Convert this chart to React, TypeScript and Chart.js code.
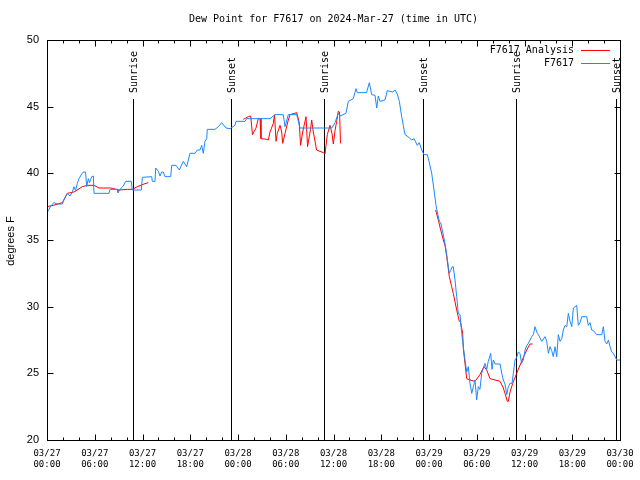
import React, { useEffect, useRef } from "react";
import { Chart, registerables } from "chart.js";

Chart.register(...registerables);

const titleText = "Dew Point for F7617 on 2024-Mar-27 (time in UTC)";
const yAxisTitle = "degrees F";
const analysisLabel = "F7617 Analysis";
const stationLabel = "F7617";
const analysisColor = "#ff0000";
const stationColor = "#1a88ff";

const xTickHours = [0, 6, 12, 18, 24, 30, 36, 42, 48, 54, 60, 66, 72];
const xTickDates = ["03/27", "03/27", "03/27", "03/27", "03/28", "03/28", "03/28", "03/28", "03/29", "03/29", "03/29", "03/29", "03/30"];
const xTickTimes = ["00:00", "06:00", "12:00", "18:00", "00:00", "06:00", "12:00", "18:00", "00:00", "06:00", "12:00", "18:00", "00:00"];

const eventHours = [10.84, 23.16, 34.85, 47.29, 58.97, 71.5];
const eventLabels = ["Sunrise", "Sunset", "Sunrise", "Sunset", "Sunrise", "Sunset"];
const eventLineTop = 45.6;

const stationHours = [
  0, 0.54, 0.88, 1.29, 1.92, 2.05, 2.55, 2.89, 3.18, 3.39, 3.58, 3.81, 4.02, 4.36, 4.56, 4.84, 4.99, 5.19, 5.34, 5.62, 5.82, 5.91,
  7.79, 7.92, 8.83, 8.92, 9.17, 9.59, 9.89, 10.59, 10.72, 11.85, 11.98, 13.16, 13.23, 13.57, 13.66, 13.99, 14.2, 14.41, 14.61, 14.83,
  15.54, 15.67, 16.21, 16.62, 17.13, 17.34, 17.55, 17.97, 18.6, 18.89, 19.23, 19.44, 19.64, 19.85, 20.07, 20.14, 21.11, 21.53, 21.95,
  22.49, 23.0, 23.62, 23.75, 24.88, 25.09, 28.02, 28.65, 29.69, 29.91, 30.32, 31.38, 31.79, 35.78, 36.19, 36.6, 36.82, 37.57, 37.86,
  38.49, 38.83, 38.99, 40.15, 40.5, 40.8, 41.22, 41.43, 41.63, 41.84, 42.47, 42.76, 43.44, 43.73, 44.02, 44.27, 44.57, 44.77, 44.99,
  45.36, 45.83, 46.12, 46.53, 46.78, 47.09, 47.37, 47.79, 48.0, 48.34, 48.63, 48.88, 49.04, 49.3, 49.47, 49.72, 50.01, 50.23, 50.43,
  50.55, 50.7, 50.93, 51.05, 51.27, 51.48, 51.68, 51.9, 52.11, 52.31, 52.52, 52.74, 52.94, 53.15, 53.37, 53.57, 53.78, 53.99, 54.19,
  54.4, 54.62, 55.04, 55.25, 55.45, 55.75, 55.92, 56.08, 56.3, 56.93, 57.14, 57.34, 57.55, 57.77, 57.97, 58.18, 58.43, 58.6, 58.81,
  59.02, 59.22, 59.43, 59.64, 59.85, 60.07, 60.28, 60.44, 60.69, 60.91, 61.11, 61.32, 61.54, 61.74, 62.17, 62.58, 62.79, 63.0, 63.21,
  63.42, 63.62, 63.84, 64.05, 64.25, 64.47, 64.68, 64.88, 65.1, 65.31, 65.51, 65.72, 65.94, 66.14, 66.56, 66.76, 66.98, 67.19, 67.82,
  68.02, 68.24, 68.44, 68.65, 69.08, 69.71, 69.91, 70.12, 70.33, 70.54, 70.75, 70.96, 71.16, 71.38, 71.59, 72.0,
];
const stationDewPoint = [
  37.05, 37.6, 37.8, 37.7, 37.7, 37.9, 38.5, 38.3, 38.6, 39.0, 38.7, 39.25, 39.6, 39.95, 40.1, 40.1, 39.0, 39.6, 39.3, 39.75, 39.8, 38.5,
  38.5, 38.8, 38.8, 38.55, 38.8, 39.05, 39.4, 39.4, 38.75, 38.75, 39.7, 39.75, 39.4, 39.4, 40.4, 40.15, 39.8, 40.1, 40.1, 39.75,
  39.75, 40.6, 40.6, 40.25, 40.9, 40.7, 40.5, 41.5, 41.5, 41.75, 41.75, 42.1, 41.5, 42.4, 42.6, 43.3, 43.3, 43.5, 43.8,
  43.4, 43.35, 43.6, 43.9, 43.9, 44.1, 44.1, 44.4, 44.4, 43.5, 44.4, 44.4, 43.4, 43.4, 43.8, 44.5, 44.3, 44.5, 45.4,
  45.6, 46.35, 46.05, 46.05, 46.8, 45.9, 45.85, 44.9, 45.8, 45.4, 45.5, 46.2, 46.1, 46.25, 45.95, 45.4, 44.25, 43.6, 42.9,
  42.75, 42.5, 42.6, 42.1, 42.3, 41.75, 41.4, 41.4, 40.9, 40.0, 38.75, 37.6, 37.1, 36.4, 36.3, 35.6, 34.75, 33.9, 33.0,
  32.5, 32.7, 33.0, 33.0, 32.0, 30.75, 29.5, 29.4, 28.0, 27.0, 26.0, 25.1, 25.5, 24.25, 23.5, 24.0, 24.5, 23.0, 24.0,
  23.8, 25.0, 25.75, 25.3, 25.9, 26.5, 25.3, 26.0, 25.7, 25.7, 25.0, 24.5, 24.2, 23.4, 24.0, 24.25, 24.25, 25.0, 26.0,
  26.2, 26.6, 26.5, 25.75, 26.0, 26.75, 27.1, 27.2, 27.5, 27.75, 27.9, 28.5, 28.1, 27.9, 27.4, 27.75, 27.4, 26.5, 27.0,
  26.7, 26.25, 27.0, 26.25, 27.9, 27.4, 27.6, 28.25, 28.6, 28.5, 29.5, 28.9, 28.5, 29.9, 30.1, 28.6, 28.8, 29.25, 29.25,
  28.6, 28.8, 28.25, 28.2, 27.9, 27.9, 28.5, 27.4, 27.2, 27.5, 27.0, 26.6, 26.5, 26.25, 26.0, 26.0,
];

const analysisHours = [
  0.04, 0.79, 1.92, 2.55, 3.39, 4.44, 5.06, 5.91, 6.53, 8.0, 9.05, 10.09, 10.72, 11.35, 12.19, 12.73,
  18.0,
  24.67, 25.3, 25.6, 25.82, 26.26, 26.55, 26.77, 26.89, 27.61, 27.81, 28.02, 28.44, 28.59, 28.78, 28.94, 29.28, 29.49, 29.62, 29.91,
  30.32, 30.54, 31.38, 31.7, 31.86, 32.13, 32.55, 32.74, 33.11, 33.26, 33.46, 33.68, 33.87, 34.72, 34.93, 35.22, 35.56, 35.81, 35.98,
  36.19, 36.4, 36.6, 36.76, 36.88,
  42.0,
  48.84, 49.17, 49.47, 49.8, 50.01, 50.23, 50.55, 50.85, 51.05, 51.48, 51.81, 51.98, 52.23, 52.31, 52.52, 52.74, 53.15, 53.78, 54.4,
  54.9, 55.25, 55.67, 56.3, 56.93, 57.34, 57.55, 57.84, 57.97, 58.18, 58.52, 59.02, 59.64, 60.28, 60.69, 61.01,
];
const analysisDewPoint = [
  37.5, 37.6, 37.8, 38.5, 38.6, 39.0, 39.1, 39.1, 38.9, 38.9, 38.75, 38.8, 38.8, 39.0, 39.2, 39.3,
  null,
  44.05, 44.25, 44.3, 42.9, 43.4, 44.1, 44.1, 42.6, 42.55, 42.5, 43.1, 43.75, 44.4, 42.4, 43.0, 43.6, 43.1, 42.25, 43.0,
  44.0, 44.4, 44.55, 43.8, 42.1, 43.1, 44.25, 42.0, 43.3, 44.0, 43.1, 42.4, 41.75, 41.55, 41.45, 42.9, 43.6, 43.0, 42.2,
  43.2, 43.9, 44.65, 44.6, 42.25,
  null,
  37.25, 36.5, 35.75, 35.0, 34.6, 33.75, 32.25, 31.5, 31.0, 29.75, 28.9, 28.8, 28.0, 26.9, 25.75, 24.6, 24.5, 24.4, 24.9,
  25.5, 25.25, 24.6, 24.5, 24.4, 23.9, 23.5, 22.9, 22.9, 23.6, 24.25, 25.0, 25.9, 26.75, 27.2, 27.2,
];

const MONO = "'DejaVu Sans Mono', monospace";
const SANS = "'Liberation Sans', Arial, sans-serif";

const decorPlugin = {
  id: "decor",
  beforeDatasetsDraw(chart: any) {
    const { ctx, chartArea: a, scales } = chart;
    const x = scales.x;
    const y = scales.y;
    ctx.save();
    ctx.strokeStyle = "#000";
    ctx.fillStyle = "#000";
    ctx.lineWidth = 1;
    eventHours.forEach((h, i) => {
      const px = Math.round(x.getPixelForValue(h)) + 0.5;
      const top = Math.round(y.getPixelForValue(eventLineTop));
      ctx.beginPath();
      ctx.moveTo(px, a.bottom);
      ctx.lineTo(px, top);
      ctx.stroke();
      ctx.save();
      ctx.translate(px, top - 6);
      ctx.rotate(-Math.PI / 2);
      ctx.font = `10px ${MONO}`;
      ctx.textAlign = "left";
      ctx.textBaseline = "middle";
      ctx.fillText(eventLabels[i], 0, 1);
      ctx.restore();
    });
    ctx.restore();
  },
  afterDraw(chart: any) {
    const { ctx, chartArea: a, scales } = chart;
    const x = scales.x;
    const y = scales.y;
    const L = Math.round(a.left) + 0.5;
    const R = Math.round(a.right) + 0.5;
    const T = Math.round(a.top) + 0.5;
    const B = Math.round(a.bottom) + 0.5;
    ctx.save();
    ctx.strokeStyle = "#000";
    ctx.fillStyle = "#000";
    ctx.lineWidth = 1;
    ctx.strokeRect(L, T, R - L, B - T);
    ctx.beginPath();
    x.ticks.forEach((t: any) => {
      const px = Math.round(x.getPixelForValue(t.value)) + 0.5;
      const len = t.value % 6 === 0 ? 6 : 3;
      ctx.moveTo(px, B);
      ctx.lineTo(px, B - len);
      ctx.moveTo(px, T);
      ctx.lineTo(px, T + len);
    });
    y.ticks.forEach((t: any) => {
      const py = Math.round(y.getPixelForValue(t.value)) + 0.5;
      ctx.moveTo(L, py);
      ctx.lineTo(L + 6, py);
      ctx.moveTo(R, py);
      ctx.lineTo(R - 6, py);
    });
    ctx.stroke();

    // title
    ctx.font = `10px ${MONO}`;
    ctx.textAlign = "center";
    ctx.textBaseline = "middle";
    ctx.fillText(titleText, (a.left + a.right) / 2, 19);

    // legend
    const rows = [
      { label: analysisLabel, color: analysisColor },
      { label: stationLabel, color: stationColor },
    ];
    rows.forEach((r, i) => {
      const ly = Math.round(a.top + 10 + i * 12.5) + 0.5;
      ctx.fillStyle = "#000";
      ctx.textAlign = "right";
      ctx.fillText(r.label, a.right - 46, ly);
      ctx.strokeStyle = r.color;
      ctx.beginPath();
      ctx.moveTo(a.right - 39, ly);
      ctx.lineTo(a.right - 10, ly);
      ctx.stroke();
    });

    // y title
    ctx.save();
    ctx.fillStyle = "#000";
    ctx.translate(11, (a.top + a.bottom) / 2 + 1);
    ctx.rotate(-Math.PI / 2);
    ctx.font = `11px ${SANS}`;
    ctx.textAlign = "center";
    ctx.textBaseline = "middle";
    ctx.fillText(yAxisTitle, 0, 0);
    ctx.restore();
    ctx.restore();
  },
};

function toPoints(xs: number[], ys: (number | null)[]) {
  return xs.map((h, i) => ({ x: h, y: ys[i] }));
}

export default function App() {
  const ref = useRef<HTMLCanvasElement | null>(null);
  useEffect(() => {
    document.body.style.margin = "0";
    const canvas = ref.current;
    if (!canvas) return;
    const chart = new Chart(canvas, {
      type: "line",
      data: {
        datasets: [
          {
            label: stationLabel,
            data: toPoints(stationHours, stationDewPoint),
            borderColor: stationColor,
            borderWidth: 1,
            pointRadius: 0,
            tension: 0,
            fill: false,
            spanGaps: false,
            order: 0,
          },
          {
            label: analysisLabel,
            data: toPoints(analysisHours, analysisDewPoint),
            borderColor: analysisColor,
            borderWidth: 1,
            pointRadius: 0,
            tension: 0,
            fill: false,
            spanGaps: false,
            order: 1,
          },
        ],
      },
      options: {
        animation: false,
        responsive: false,
        maintainAspectRatio: false,
        devicePixelRatio: 1,
        layout: { padding: { top: 40, right: 20, left: 0, bottom: 0 } },
        plugins: {
          legend: { display: false },
          title: { display: false },
          tooltip: { enabled: false },
        },
        scales: {
          x: {
            type: "linear",
            min: 0,
            max: 72,
            grid: { display: false, drawTicks: false },
            border: { display: false },
            ticks: {
              stepSize: 2,
              autoSkip: false,
              maxRotation: 0,
              minRotation: 0,
              padding: 8,
              color: "#000",
              font: { family: MONO, size: 9, lineHeight: 1.25 },
              callback: (v: any) => {
                const i = xTickHours.indexOf(Number(v));
                return i >= 0 ? [xTickDates[i], xTickTimes[i]] : "";
              },
            },
            afterFit: (s: any) => {
              s.height = 40;
              s.paddingLeft = 0;
              s.paddingRight = 0;
            },
          },
          y: {
            type: "linear",
            min: 20,
            max: 50,
            grid: { display: false, drawTicks: false },
            border: { display: false },
            ticks: {
              stepSize: 5,
              padding: 8,
              color: "#000",
              font: { family: SANS, size: 11 },
            },
            afterFit: (s: any) => {
              s.width = 47;
              s.paddingTop = 0;
              s.paddingBottom = 0;
            },
          },
        },
      },
      plugins: [decorPlugin],
    } as any);
    return () => chart.destroy();
  }, []);
  return (
    <div style={{ width: 640, height: 480, background: "#fff" }}>
      <canvas ref={ref} width={640} height={480} style={{ display: "block", width: 640, height: 480 }} />
    </div>
  );
}
